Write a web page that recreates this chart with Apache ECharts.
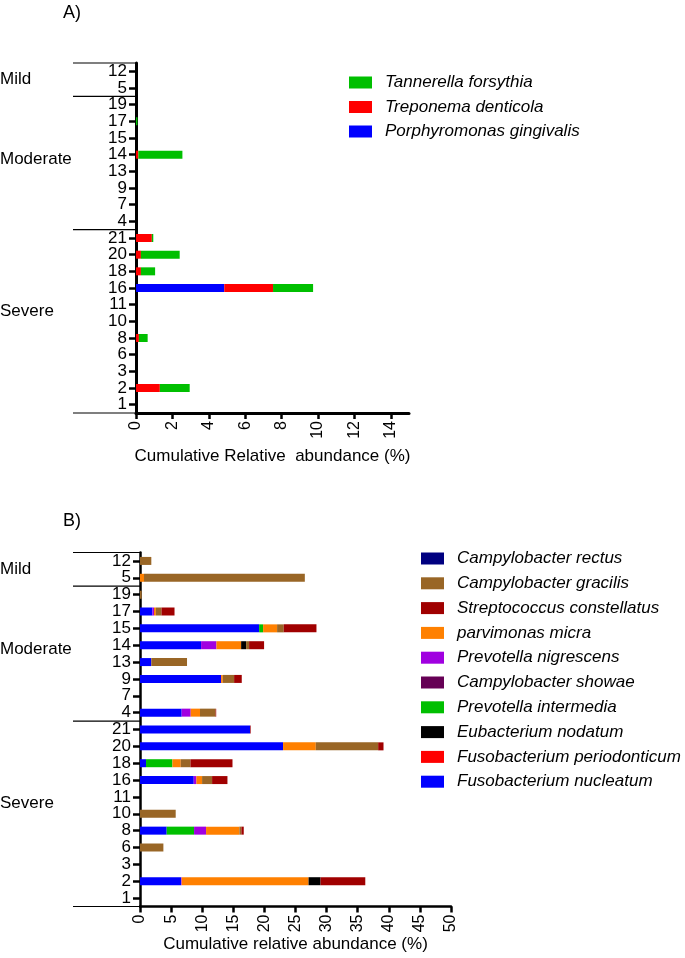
<!DOCTYPE html>
<html>
<head>
<meta charset="utf-8">
<script src="https://cdn.jsdelivr.net/npm/echarts@6/dist/echarts.min.js"></script>
<style>
html,body{margin:0;padding:0;background:#fff;}
#c{width:685px;height:958px;}
</style>
</head>
<body>
<div id="c"></div>
<script>
// Patient categories, top to bottom
const categories = ['12','5','19','17','15','14','13','9','7','4','21','20','18','16','11','10','8','6','3','2','1'];
// Groups: [label, first index, last index]
const groups = [['Mild',0,1],['Moderate',2,9],['Severe',10,20]];

// Panel A values (%), in category order
const pGingivalis = [0,0,0,0,0,0,0,0,0,0,0,0,0,4.85,0,0,0,0,0,0,0];
const tDenticola  = [0,0,0,0,0,0.13,0,0,0,0,0.87,0.27,0.27,2.68,0,0,0.16,0,0,1.31,0];
const tForsythia  = [0,0,0,0.08,0,2.42,0,0,0,0,0.08,2.13,0.78,2.2,0,0,0.48,0,0,1.64,0];

// Panel B values (%), in category order
const fNucleatum     = [0,0,0,2.0,19.15,9.82,1.82,13.04,0,6.7,17.7,23.0,0.97,8.64,0,0,4.29,0,0,6.6,0];
const fPeriodonticum = [0,0,0,0,0,0,0,0,0,0,0,0,0,0,0,0,0,0,0,0,0];
const pIntermedia    = [0,0,0,0,0.64,0,0,0,0,0,0,0,4.24,0,0,0,4.4,0,0,0,0];
const pNigrescens    = [0,0,0,0.25,0,2.47,0,0,0,1.45,0,0,0,0.43,0,0,1.93,0,0,0.1,0];
const cShowae        = [0,0,0,0,0,0,0,0,0,0,0,0,0,0,0,0,0,0,0,0,0];
const pMicra         = [0,0.64,0,0.3,2.25,3.97,0,0.27,0,1.5,0,5.26,1.34,0.91,0,0,5.36,0,0,20.4,0];
const eNodatum       = [0,0,0,0,0,0.8,0,0,0,0,0,0,0,0,0,0,0,0,0,1.93,0];
const cGracilis      = [1.82,25.86,0.27,0.9,1.07,0.48,5.74,1.82,0,2.5,0,10.03,1.56,1.61,0,5.74,0.32,3.76,0,0,0];
const sConstellatus  = [0,0,0,2.1,5.26,2.41,0,1.23,0,0.1,0.1,0.86,6.76,2.47,0,0,0.38,0,0,7.19,0];
const cRectus        = [0,0,0,0,0,0,0,0,0,0,0,0,0,0,0,0,0,0,0,0,0];

const ticksA = [0,2,4,6,8,10,12,14];
const ticksB = [0,5,10,15,20,25,30,35,40,45,50];

const seriesA = [
  ['Porphyromonas gingivalis', pGingivalis, '#0000FF'],
  ['Treponema denticola', tDenticola, '#FF0000'],
  ['Tannerella forsythia', tForsythia, '#00BF00']
];
const seriesB = [
  ['Fusobacterium nucleatum', fNucleatum, '#0000FF'],
  ['Fusobacterium periodonticum', fPeriodonticum, '#FF0000'],
  ['Prevotella intermedia', pIntermedia, '#00BF00'],
  ['Prevotella nigrescens', pNigrescens, '#A000E0'],
  ['Campylobacter showae', cShowae, '#660055'],
  ['parvimonas micra', pMicra, '#FF8000'],
  ['Eubacterium nodatum', eNodatum, '#000000'],
  ['Campylobacter gracilis', cGracilis, '#996626'],
  ['Streptococcus constellatus', sConstellatus, '#A00000'],
  ['Campylobacter rectus', cRectus, '#000080']
];
const legendA = ['Tannerella forsythia','Treponema denticola','Porphyromonas gingivalis'];
const legendB = ['Campylobacter rectus','Campylobacter gracilis','Streptococcus constellatus','parvimonas micra','Prevotella nigrescens','Campylobacter showae','Prevotella intermedia','Eubacterium nodatum','Fusobacterium periodonticum','Fusobacterium nucleatum'];

const FONT = 'Liberation Sans, Arial, Helvetica, sans-serif';
const gridA = {left:136, top:63, width:273, height:350};
const gridB = {left:140, top:552.5, width:311, height:354};

function xAxisFor(idx, max, interval, ticks, name, gap, lw){
  return {
    type:'value', gridIndex:idx, min:0, max:max, interval:interval,
    name:name, nameLocation:'middle', nameGap:gap,
    nameTextStyle:{fontFamily:FONT, fontSize:17, color:'#000'},
    axisLine:{show:true, lineStyle:{color:'#000', width:lw}},
    axisTick:{show:true, length:6, lineStyle:{color:'#000', width:2.5}, customValues:ticks},
    axisLabel:{rotate:90, fontFamily:FONT, fontSize:16, color:'#000', margin:8, customValues:ticks},
    splitLine:{show:false}
  };
}
function yAxisFor(idx, lw){
  return {
    type:'category', gridIndex:idx, data:categories, inverse:true,
    axisLine:{show:true, lineStyle:{color:'#000', width:lw}},
    axisTick:{show:true, alignWithLabel:true, interval:0, length:7, lineStyle:{color:'#000', width:2.5}},
    axisLabel:{interval:0, fontFamily:FONT, fontSize:17, color:'#000', margin:9, hideOverlap:false},
    splitLine:{show:false}
  };
}

const series = [];
seriesA.forEach(s => series.push({
  name:s[0], type:'bar', stack:'A', xAxisIndex:0, yAxisIndex:0, data:s[1],
  barWidth:8, itemStyle:{color:s[2]}, silent:true
}));
seriesB.forEach(s => series.push({
  name:s[0], type:'bar', stack:'B', xAxisIndex:1, yAxisIndex:1, data:s[1],
  barWidth:8, itemStyle:{color:s[2]}, silent:true
}));

// Group brackets and labels (positioned from grid geometry)
const graphic = [];
const labelPos = {Mild:1.0, Moderate:5.8, Severe:14.92};
[gridA, gridB].forEach(g => {
  const band = g.height / categories.length;
  const bounds = new Set();
  groups.forEach(gr => { bounds.add(gr[1]); bounds.add(gr[2]+1); });
  bounds.forEach(k => {
    const y = g.top + k*band;
    graphic.push({type:'line', shape:{x1:73, y1:y, x2:g.left, y2:y}, style:{stroke:'#000', lineWidth:1.2}, silent:true});
  });
  groups.forEach(gr => {
    graphic.push({type:'text', left:0, top:g.top + labelPos[gr[0]]*band - 9,
      style:{text:gr[0], font:'17px ' + FONT, fill:'#000'}, silent:true});
  });
});
graphic.push({type:'text', left:63, top:4, style:{text:'A)', font:'18px ' + FONT, fill:'#000'}});
graphic.push({type:'text', left:63, top:512, style:{text:'B)', font:'18px ' + FONT, fill:'#000'}});

const chart = echarts.init(document.getElementById('c'));
chart.setOption({
  animation:false,
  backgroundColor:'#fff',
  grid:[gridA, gridB],
  xAxis:[
    xAxisFor(0, 15, 2, ticksA, 'Cumulative Relative  abundance (%)', 35, 3),
    xAxisFor(1, 50, 5, ticksB, 'Cumulative relative abundance (%)', 29, 2.5)
  ],
  yAxis:[yAxisFor(0, 3), yAxisFor(1, 2.5)],
  legend:[
    {data:legendA, orient:'vertical', left:344, top:69, itemWidth:23, itemHeight:12, itemGap:7.5,
     icon:'rect', selectedMode:false,
     textStyle:{fontFamily:FONT, fontSize:17, fontStyle:'italic', color:'#000', padding:[0,0,0,8]}},
    {data:legendB, orient:'vertical', left:416, top:545, itemWidth:23, itemHeight:12, itemGap:7.8,
     icon:'rect', selectedMode:false,
     textStyle:{fontFamily:FONT, fontSize:17, fontStyle:'italic', color:'#000', padding:[0,0,0,8]}}
  ],
  graphic:graphic,
  series:series
});
</script>
</body>
</html>
